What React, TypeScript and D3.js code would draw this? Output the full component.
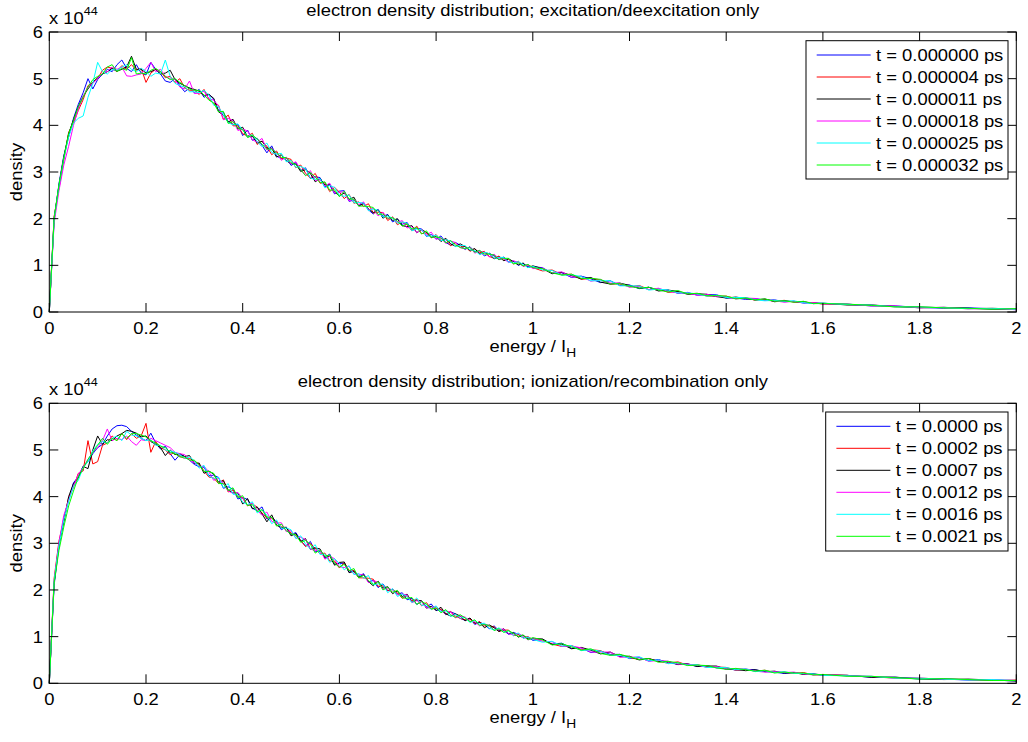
import React from 'react';
import * as d3 from 'd3';

const energy = [
  0, 0.01, 0.02, 0.03, 0.04, 0.05, 0.06, 0.07, 0.08, 0.09,
  0.10, 0.11, 0.12, 0.13, 0.14, 0.15, 0.16, 0.17, 0.18, 0.19,
  0.20, 0.21, 0.22, 0.23, 0.24, 0.25, 0.26, 0.27, 0.28, 0.29,
  0.30, 0.31, 0.32, 0.33, 0.34, 0.35, 0.36, 0.37, 0.38, 0.39,
  0.40, 0.41, 0.42, 0.43, 0.44, 0.45, 0.46, 0.47, 0.48, 0.49,
  0.50,
  0.51, 0.52, 0.53, 0.54, 0.55, 0.56, 0.57, 0.58, 0.59, 0.60,
  0.61, 0.62, 0.63, 0.64, 0.65, 0.66, 0.67, 0.68, 0.69, 0.70,
  0.71, 0.72, 0.73, 0.74, 0.75, 0.76, 0.77, 0.78, 0.79, 0.80,
  0.81, 0.82, 0.83, 0.84, 0.85, 0.86, 0.87, 0.88, 0.89, 0.90,
  0.91, 0.92, 0.93, 0.94, 0.95, 0.96, 0.97, 0.98, 0.99, 1.00,
  1.02, 1.04, 1.06, 1.08, 1.10, 1.12, 1.14, 1.16, 1.18, 1.20,
  1.22, 1.24, 1.26, 1.28, 1.30, 1.32, 1.34, 1.36, 1.38, 1.40,
  1.42, 1.44, 1.46, 1.48, 1.50, 1.52, 1.54, 1.56, 1.58, 1.60,
  1.65, 1.70, 1.75, 1.80, 1.85, 1.90, 1.95, 2.00,
];

// ---- top panel: excitation/deexcitation (density / 1e44) ----
const exc_t0 = [
  0, 1.95, 2.75, 3.35, 3.75, 4.15, 4.45, 4.7, 5.0, 4.78,
  4.98, 5.1, 5.2, 5.15, 5.3, 5.4, 5.22, 5.15, 5.3, 5.12,
  5.08, 5.35, 5.2, 5.1, 4.95, 4.92, 5.0, 4.85, 4.72, 4.8,
  4.70, 4.77, 4.60, 4.67, 4.56, 4.32, 4.28, 4.08, 4.02, 4.02,
  3.78, 3.90, 3.68, 3.72, 3.57, 3.41, 3.56, 3.34, 3.29, 3.31,
  3.14,
  3.20, 3.03, 3.09, 2.86, 2.90, 2.88, 2.68, 2.72, 2.53, 2.59,
  2.60, 2.37, 2.40, 2.28, 2.34, 2.19, 2.10, 2.20, 2.05, 2.09,
  1.93, 1.99, 1.88, 1.92, 1.75, 1.79, 1.78, 1.62, 1.66, 1.56,
  1.63, 1.49, 1.43, 1.49, 1.43, 1.34, 1.40, 1.29, 1.31, 1.20,
  1.26, 1.20, 1.12, 1.18, 1.07, 1.09, 1.00, 1.04, 0.97, 0.97,
  0.95, 0.83, 0.84, 0.74, 0.77, 0.71, 0.63, 0.67, 0.57, 0.58,
  0.50, 0.53, 0.47, 0.47, 0.40, 0.42, 0.36, 0.37, 0.37, 0.30,
  0.30, 0.27, 0.29, 0.25, 0.26, 0.22, 0.23, 0.19, 0.20, 0.18,
  0.17, 0.13, 0.13, 0.10, 0.08, 0.09, 0.07, 0.05,
];
const exc_t1 = [
  0, 2.05, 2.65, 3.25, 3.85, 4.05, 4.32, 4.55, 4.85, 4.92,
  5.0, 5.18, 5.25, 5.22, 5.15, 5.28, 5.2, 5.3, 5.18, 5.22,
  4.92, 5.12, 5.2, 5.15, 5.02, 5.05, 4.92, 5.0, 4.8, 4.75,
  4.76, 4.66, 4.77, 4.56, 4.47, 4.43, 4.13, 4.22, 3.99, 3.99,
  3.82, 3.77, 3.83, 3.59, 3.66, 3.55, 3.37, 3.45, 3.28, 3.30,
  3.27,
  3.09, 3.15, 2.97, 2.87, 2.97, 2.76, 2.77, 2.58, 2.67, 2.57,
  2.43, 2.52, 2.33, 2.36, 2.26, 2.32, 2.12, 2.14, 2.13, 1.96,
  2.04, 1.87, 1.93, 1.87, 1.74, 1.84, 1.68, 1.69, 1.59, 1.66,
  1.53, 1.56, 1.42, 1.48, 1.39, 1.41, 1.30, 1.35, 1.27, 1.30,
  1.19, 1.15, 1.20, 1.11, 1.13, 1.03, 1.09, 0.98, 1.01, 0.95,
  0.88, 0.90, 0.80, 0.81, 0.70, 0.72, 0.69, 0.60, 0.60, 0.54,
  0.57, 0.48, 0.50, 0.42, 0.44, 0.39, 0.40, 0.34, 0.34, 0.34,
  0.29, 0.31, 0.25, 0.27, 0.23, 0.25, 0.21, 0.21, 0.20, 0.17,
  0.16, 0.15, 0.11, 0.11, 0.09, 0.07, 0.08, 0.06,
];
const exc_t2 = [
  0, 2.02, 2.72, 3.32, 3.82, 4.12, 4.4, 4.62, 4.78, 4.92,
  5.02, 5.1, 5.15, 5.22, 5.16, 5.2, 5.25, 5.48, 5.2, 5.2,
  5.12, 5.15, 5.2, 5.1, 5.12, 5.18, 4.98, 4.9, 4.85, 4.8,
  4.77, 4.73, 4.64, 4.66, 4.58, 4.29, 4.22, 4.07, 4.13, 3.92,
  3.96, 3.75, 3.77, 3.62, 3.66, 3.51, 3.51, 3.32, 3.37, 3.24,
  3.18,
  3.17, 3.01, 3.05, 2.97, 2.79, 2.86, 2.72, 2.74, 2.57, 2.49,
  2.55, 2.41, 2.46, 2.27, 2.32, 2.21, 2.13, 2.19, 2.01, 2.08,
  1.96, 2.00, 1.85, 1.83, 1.85, 1.70, 1.76, 1.71, 1.60, 1.62,
  1.51, 1.58, 1.46, 1.41, 1.46, 1.40, 1.32, 1.36, 1.24, 1.27,
  1.25, 1.14, 1.18, 1.10, 1.14, 1.08, 1.01, 1.05, 0.95, 0.99,
  0.93, 0.82, 0.85, 0.78, 0.71, 0.74, 0.64, 0.60, 0.62, 0.57,
  0.51, 0.53, 0.45, 0.47, 0.44, 0.38, 0.39, 0.38, 0.33, 0.30,
  0.32, 0.29, 0.26, 0.28, 0.22, 0.24, 0.22, 0.22, 0.18, 0.19,
  0.15, 0.15, 0.12, 0.09, 0.10, 0.08, 0.06, 0.06,
];
const exc_t3 = [
  0, 1.9, 2.6, 3.15, 3.55, 4.0, 4.35, 4.62, 4.82, 4.9,
  5.0, 5.12, 5.15, 5.25, 5.2, 5.25, 5.06, 5.05, 5.08, 5.1,
  5.22, 5.35, 5.15, 5.2, 5.05, 5.0, 4.98, 4.82, 4.78, 4.95,
  4.68, 4.69, 4.73, 4.57, 4.54, 4.42, 4.12, 4.15, 4.10, 3.89,
  3.92, 3.88, 3.69, 3.64, 3.72, 3.47, 3.50, 3.42, 3.25, 3.32,
  3.17,
  3.22, 3.05, 2.93, 3.03, 2.82, 2.83, 2.70, 2.76, 2.55, 2.57,
  2.57, 2.38, 2.42, 2.30, 2.36, 2.18, 2.22, 2.06, 2.14, 2.00,
  2.03, 1.92, 1.96, 1.80, 1.83, 1.70, 1.77, 1.65, 1.71, 1.56,
  1.58, 1.47, 1.52, 1.49, 1.38, 1.35, 1.39, 1.26, 1.31, 1.27,
  1.18, 1.24, 1.14, 1.14, 1.06, 1.10, 1.06, 0.98, 1.01, 0.93,
  0.94, 0.84, 0.86, 0.75, 0.76, 0.66, 0.69, 0.62, 0.62, 0.53,
  0.55, 0.48, 0.51, 0.44, 0.41, 0.41, 0.36, 0.38, 0.33, 0.33,
  0.28, 0.30, 0.29, 0.25, 0.24, 0.21, 0.23, 0.20, 0.20, 0.17,
  0.17, 0.13, 0.13, 0.09, 0.10, 0.07, 0.07, 0.05,
];
const exc_t4 = [
  0, 2.0, 2.7, 3.28, 3.75, 4.05, 4.15, 4.2, 4.6, 4.9,
  5.35, 5.15, 5.1, 5.2, 5.18, 5.25, 5.3, 5.2, 5.15, 5.22,
  5.16, 5.05, 5.12, 5.1, 5.4, 5.05, 4.9, 4.85, 4.82, 4.72,
  4.72, 4.70, 4.75, 4.65, 4.43, 4.40, 4.22, 4.06, 4.01, 4.03,
  3.90, 3.76, 3.80, 3.65, 3.54, 3.62, 3.42, 3.38, 3.40, 3.22,
  3.25,
  3.10, 3.12, 3.07, 2.87, 2.84, 2.86, 2.66, 2.71, 2.67, 2.50,
  2.48, 2.51, 2.34, 2.35, 2.33, 2.17, 2.21, 2.18, 2.03, 2.06,
  2.01, 1.90, 1.93, 1.90, 1.74, 1.78, 1.76, 1.63, 1.62, 1.65,
  1.53, 1.55, 1.52, 1.40, 1.43, 1.42, 1.33, 1.32, 1.23, 1.28,
  1.25, 1.15, 1.17, 1.17, 1.07, 1.05, 1.08, 1.02, 0.95, 0.98,
  0.90, 0.89, 0.79, 0.80, 0.76, 0.67, 0.67, 0.67, 0.56, 0.56,
  0.56, 0.47, 0.49, 0.47, 0.41, 0.41, 0.39, 0.34, 0.36, 0.31,
  0.31, 0.31, 0.26, 0.24, 0.25, 0.23, 0.24, 0.20, 0.18, 0.19,
  0.16, 0.15, 0.11, 0.11, 0.09, 0.07, 0.08, 0.06,
];
const exc_t5 = [
  0, 2.0, 2.72, 3.3, 3.82, 4.1, 4.4, 4.6, 4.82, 4.98,
  5.05, 5.1, 5.25, 5.3, 5.15, 5.22, 5.18, 5.45, 5.1, 5.12,
  5.1, 5.18, 5.22, 5.15, 5.05, 4.98, 5.0, 4.92, 4.85, 4.78,
  4.75, 4.75, 4.65, 4.54, 4.48, 4.29, 4.30, 4.04, 4.08, 3.94,
  3.91, 3.74, 3.79, 3.71, 3.59, 3.49, 3.49, 3.41, 3.31, 3.31,
  3.20,
  3.16, 3.05, 2.92, 2.99, 2.89, 2.77, 2.79, 2.61, 2.62, 2.47,
  2.59, 2.42, 2.42, 2.27, 2.27, 2.26, 2.24, 2.09, 2.10, 2.01,
  2.02, 1.95, 1.84, 1.89, 1.78, 1.81, 1.67, 1.74, 1.60, 1.61,
  1.59, 1.48, 1.53, 1.44, 1.38, 1.36, 1.38, 1.28, 1.32, 1.24,
  1.24, 1.22, 1.12, 1.15, 1.15, 1.03, 1.05, 0.99, 1.02, 0.95,
  0.93, 0.84, 0.79, 0.81, 0.72, 0.72, 0.70, 0.60, 0.61, 0.55,
  0.51, 0.53, 0.47, 0.43, 0.46, 0.39, 0.40, 0.35, 0.35, 0.34,
  0.28, 0.30, 0.26, 0.28, 0.23, 0.24, 0.21, 0.23, 0.18, 0.18,
  0.17, 0.14, 0.11, 0.11, 0.09, 0.08, 0.06, 0.07,
];

// ---- bottom panel: ionization/recombination (density / 1e44) ----
const ion_t0 = [
  0, 2.1, 2.95, 3.55, 3.92, 4.3, 4.42, 4.65, 4.75, 4.92,
  5.05, 5.12, 5.3, 5.45, 5.52, 5.53, 5.5, 5.4, 5.32, 5.25,
  5.2, 5.36, 5.15, 5.02, 5.08, 4.92, 4.78, 4.9, 4.86, 4.78,
  4.69, 4.64, 4.63, 4.45, 4.46, 4.41, 4.18, 4.21, 4.16, 3.95,
  3.98, 3.94, 3.75, 3.70, 3.78, 3.52, 3.55, 3.47, 3.29, 3.35,
  3.19,
  3.23, 3.06, 2.94, 3.04, 2.82, 2.83, 2.70, 2.77, 2.55, 2.57,
  2.57, 2.38, 2.42, 2.29, 2.35, 2.17, 2.21, 2.05, 2.13, 1.98,
  2.02, 1.91, 1.94, 1.79, 1.82, 1.69, 1.76, 1.64, 1.70, 1.56,
  1.58, 1.47, 1.53, 1.49, 1.39, 1.35, 1.39, 1.26, 1.31, 1.26,
  1.17, 1.23, 1.13, 1.13, 1.05, 1.09, 1.05, 0.97, 0.99, 0.92,
  0.94, 0.84, 0.86, 0.75, 0.76, 0.66, 0.69, 0.62, 0.62, 0.53,
  0.55, 0.48, 0.51, 0.44, 0.41, 0.41, 0.36, 0.38, 0.33, 0.33,
  0.28, 0.30, 0.29, 0.25, 0.24, 0.21, 0.23, 0.20, 0.20, 0.17,
  0.17, 0.13, 0.13, 0.09, 0.10, 0.07, 0.07, 0.05,
];
const ion_t1 = [
  0, 2.25, 3.05, 3.5, 3.98, 4.2, 4.5, 4.55, 5.2, 4.7,
  4.75, 5.1, 5.15, 5.3, 5.2, 5.35, 5.22, 5.35, 5.25, 5.3,
  5.57, 4.95, 5.18, 5.05, 5.0, 4.9, 4.95, 4.86, 4.82, 4.82,
  4.76, 4.70, 4.55, 4.42, 4.40, 4.28, 4.36, 4.10, 4.14, 4.00,
  3.97, 3.80, 3.85, 3.77, 3.65, 3.54, 3.54, 3.46, 3.35, 3.34,
  3.22,
  3.17, 3.06, 2.93, 3.00, 2.89, 2.77, 2.79, 2.62, 2.62, 2.47,
  2.59, 2.42, 2.42, 2.26, 2.26, 2.25, 2.23, 2.08, 2.09, 1.99,
  2.01, 1.94, 1.82, 1.88, 1.77, 1.80, 1.66, 1.73, 1.59, 1.61,
  1.59, 1.48, 1.54, 1.44, 1.39, 1.36, 1.38, 1.28, 1.32, 1.23,
  1.23, 1.21, 1.11, 1.14, 1.14, 1.02, 1.04, 0.98, 1.00, 0.94,
  0.93, 0.84, 0.79, 0.81, 0.72, 0.72, 0.70, 0.60, 0.61, 0.55,
  0.51, 0.53, 0.47, 0.43, 0.46, 0.39, 0.40, 0.35, 0.35, 0.34,
  0.28, 0.30, 0.26, 0.28, 0.23, 0.24, 0.21, 0.23, 0.18, 0.18,
  0.17, 0.14, 0.11, 0.11, 0.09, 0.08, 0.06, 0.07,
];
const ion_t2 = [
  0, 2.15, 2.98, 3.45, 4.0, 4.28, 4.4, 4.65, 4.6, 5.0,
  5.3, 5.12, 5.22, 5.2, 5.3, 5.35, 5.42, 5.4, 5.36, 5.28,
  5.3, 5.18, 5.12, 5.05, 4.88, 5.0, 4.9, 4.92, 4.86, 4.88,
  4.71, 4.72, 4.50, 4.55, 4.48, 4.31, 4.34, 4.14, 4.08, 4.08,
  3.84, 3.96, 3.74, 3.78, 3.63, 3.46, 3.61, 3.39, 3.33, 3.34,
  3.16,
  3.21, 3.04, 3.10, 2.87, 2.90, 2.88, 2.68, 2.73, 2.53, 2.59,
  2.60, 2.37, 2.40, 2.27, 2.33, 2.18, 2.09, 2.19, 2.04, 2.07,
  1.92, 1.98, 1.86, 1.91, 1.74, 1.78, 1.77, 1.61, 1.65, 1.56,
  1.63, 1.49, 1.44, 1.49, 1.44, 1.34, 1.40, 1.29, 1.31, 1.19,
  1.25, 1.19, 1.11, 1.17, 1.06, 1.08, 0.99, 1.03, 0.95, 0.96,
  0.95, 0.83, 0.84, 0.74, 0.77, 0.71, 0.63, 0.67, 0.57, 0.58,
  0.50, 0.53, 0.47, 0.47, 0.40, 0.42, 0.36, 0.37, 0.37, 0.30,
  0.30, 0.27, 0.29, 0.25, 0.26, 0.22, 0.23, 0.19, 0.20, 0.18,
  0.17, 0.13, 0.13, 0.10, 0.08, 0.09, 0.07, 0.05,
];
const ion_t3 = [
  0, 2.2, 3.02, 3.6, 3.92, 4.22, 4.48, 4.62, 4.8, 4.95,
  5.05, 5.2, 5.45, 5.2, 5.25, 5.22, 5.3, 5.18, 5.1, 5.22,
  5.2, 5.25, 5.2, 5.15, 5.1, 5.05, 4.95, 4.92, 4.9, 4.78,
  4.73, 4.65, 4.65, 4.53, 4.35, 4.39, 4.28, 4.12, 4.07, 4.09,
  3.96, 3.82, 3.86, 3.71, 3.60, 3.67, 3.47, 3.43, 3.44, 3.25,
  3.27,
  3.11, 3.13, 3.08, 2.88, 2.84, 2.86, 2.66, 2.72, 2.67, 2.50,
  2.48, 2.51, 2.34, 2.34, 2.32, 2.16, 2.20, 2.17, 2.02, 2.04,
  2.00, 1.89, 1.91, 1.89, 1.73, 1.77, 1.75, 1.62, 1.61, 1.65,
  1.53, 1.55, 1.53, 1.40, 1.44, 1.42, 1.33, 1.32, 1.23, 1.27,
  1.24, 1.14, 1.16, 1.16, 1.06, 1.04, 1.07, 1.01, 0.93, 0.97,
  0.90, 0.89, 0.79, 0.80, 0.76, 0.67, 0.67, 0.67, 0.56, 0.56,
  0.56, 0.47, 0.49, 0.47, 0.41, 0.41, 0.39, 0.34, 0.36, 0.31,
  0.31, 0.31, 0.26, 0.24, 0.25, 0.23, 0.24, 0.20, 0.18, 0.19,
  0.16, 0.15, 0.11, 0.11, 0.09, 0.07, 0.08, 0.06,
];
const ion_t4 = [
  0, 2.2, 2.95, 3.5, 3.9, 4.22, 4.35, 4.62, 4.75, 4.98,
  5.12, 5.18, 5.15, 5.25, 5.3, 5.2, 5.4, 5.32, 5.3, 5.25,
  5.2, 5.22, 5.1, 5.1, 5.0, 4.98, 4.95, 4.9, 4.82, 4.85,
  4.77, 4.61, 4.67, 4.44, 4.39, 4.42, 4.19, 4.28, 4.05, 4.05,
  3.88, 3.83, 3.89, 3.65, 3.72, 3.60, 3.42, 3.50, 3.32, 3.33,
  3.29,
  3.10, 3.16, 2.98, 2.88, 2.97, 2.76, 2.77, 2.59, 2.67, 2.57,
  2.43, 2.52, 2.33, 2.35, 2.25, 2.31, 2.11, 2.13, 2.12, 1.94,
  2.03, 1.86, 1.91, 1.86, 1.73, 1.83, 1.67, 1.68, 1.58, 1.66,
  1.53, 1.56, 1.43, 1.48, 1.40, 1.41, 1.30, 1.35, 1.27, 1.29,
  1.18, 1.14, 1.19, 1.10, 1.12, 1.02, 1.08, 0.97, 0.99, 0.94,
  0.88, 0.90, 0.80, 0.81, 0.70, 0.72, 0.69, 0.60, 0.60, 0.54,
  0.57, 0.48, 0.50, 0.42, 0.44, 0.39, 0.40, 0.34, 0.34, 0.34,
  0.29, 0.31, 0.25, 0.27, 0.23, 0.25, 0.21, 0.21, 0.20, 0.17,
  0.16, 0.15, 0.11, 0.11, 0.09, 0.07, 0.08, 0.06,
];
const ion_t5 = [
  0, 2.15, 2.85, 3.35, 3.8, 4.12, 4.42, 4.6, 4.8, 4.95,
  5.1, 5.25, 5.12, 5.25, 5.2, 5.35, 5.25, 5.35, 5.35, 5.32,
  5.28, 5.2, 5.15, 5.08, 5.05, 4.95, 4.92, 4.85, 4.85, 4.78,
  4.78, 4.68, 4.54, 4.54, 4.50, 4.28, 4.28, 4.13, 4.19, 3.98,
  4.02, 3.81, 3.83, 3.68, 3.72, 3.56, 3.56, 3.37, 3.41, 3.27,
  3.20,
  3.18, 3.02, 3.06, 2.98, 2.79, 2.86, 2.72, 2.75, 2.57, 2.49,
  2.55, 2.41, 2.46, 2.26, 2.31, 2.20, 2.12, 2.18, 2.00, 2.06,
  1.95, 1.99, 1.83, 1.82, 1.84, 1.69, 1.75, 1.70, 1.59, 1.62,
  1.51, 1.58, 1.47, 1.41, 1.47, 1.40, 1.32, 1.36, 1.24, 1.26,
  1.24, 1.13, 1.17, 1.09, 1.13, 1.07, 1.00, 1.04, 0.93, 0.98,
  0.93, 0.82, 0.85, 0.78, 0.71, 0.74, 0.64, 0.60, 0.62, 0.57,
  0.51, 0.53, 0.45, 0.47, 0.44, 0.38, 0.39, 0.38, 0.33, 0.30,
  0.32, 0.29, 0.26, 0.28, 0.22, 0.24, 0.22, 0.22, 0.18, 0.19,
  0.15, 0.15, 0.12, 0.09, 0.10, 0.08, 0.06, 0.06,
];

const excLabels = [
  't = 0.000000 ps', 't = 0.000004 ps', 't = 0.000011 ps',
  't = 0.000018 ps', 't = 0.000025 ps', 't = 0.000032 ps',
];
const ionLabels = [
  't = 0.0000 ps', 't = 0.0002 ps', 't = 0.0007 ps',
  't = 0.0012 ps', 't = 0.0016 ps', 't = 0.0021 ps',
];
const seriesColors = ['#0000ff', '#ff0000', '#000000', '#ff00ff', '#00ffff', '#00ff00'];
const xTicks = [0, 0.2, 0.4, 0.6, 0.8, 1, 1.2, 1.4, 1.6, 1.8, 2];
const yTicks = [0, 1, 2, 3, 4, 5, 6];
const titles = [
  'electron density distribution; excitation/deexcitation only',
  'electron density distribution; ionization/recombination only',
];

const FONT = "'Liberation Sans', Arial, Helvetica, sans-serif";
const SX = 1.15; // horizontal stretch of the reference's font

type TxtProps = {
  x: number;
  y: number;
  size: number;
  anchor?: 'start' | 'middle' | 'end';
  rotate?: number;
  children: React.ReactNode;
};
function Txt({ x, y, size, anchor = 'start', rotate = 0, children }: TxtProps) {
  return (
    <text
      transform={`translate(${x},${y}) rotate(${rotate}) scale(${SX},1)`}
      textAnchor={anchor}
      fontSize={size}
      fontFamily={FONT}
      fill="#000"
    >
      {children}
    </text>
  );
}

type PanelProps = {
  top: number;
  bottom: number;
  title: string;
  series: number[][];
  labels: string[];
  legendBox: { x0: number; x1: number; y0: number; y1: number };
};

const LEFT = 49.3;
const RIGHT = 1016.3;
const TICK = 9;

function Panel({ top, bottom, title, series, labels, legendBox }: PanelProps) {
  const x = d3.scaleLinear().domain([0, 2]).range([LEFT, RIGHT]);
  const y = d3.scaleLinear().domain([0, 6]).range([bottom, top]);
  const line = d3
    .line<number>()
    .x((_, i) => x(energy[i]))
    .y((d) => y(d));
  const midX = (LEFT + RIGHT) / 2;
  const fmt = (v: number) => String(+v.toFixed(1));
  return (
    <g>
      {series.map((s, k) => (
        <path key={k} d={line(s) || ''} fill="none" stroke={seriesColors[k]} strokeWidth={1} />
      ))}
      {xTicks.map((t) => (
        <g key={'xt' + t}>
          <line x1={x(t)} x2={x(t)} y1={bottom} y2={bottom - TICK} stroke="#000" />
          <line x1={x(t)} x2={x(t)} y1={top} y2={top + TICK} stroke="#000" />
          <Txt x={x(t)} y={bottom + 22} size={16} anchor="middle">
            {fmt(t)}
          </Txt>
        </g>
      ))}
      {yTicks.map((t) => (
        <g key={'yt' + t}>
          <line x1={LEFT} x2={LEFT + TICK} y1={y(t)} y2={y(t)} stroke="#000" />
          <line x1={RIGHT} x2={RIGHT - TICK} y1={y(t)} y2={y(t)} stroke="#000" />
          <Txt x={43} y={y(t) + 6} size={16} anchor="end">
            {t}
          </Txt>
        </g>
      ))}
      <rect x={LEFT} y={top} width={RIGHT - LEFT} height={bottom - top} fill="none" stroke="#000" strokeWidth={1} />
      <Txt x={49} y={top - 8} size={16}>
        x 10
        <tspan fontSize={11} dy={-9}>
          44
        </tspan>
      </Txt>
      <Txt x={midX} y={top - 16} size={16} anchor="middle">
        {title}
      </Txt>
      <Txt x={midX} y={bottom + 40} size={16} anchor="middle">
        energy / I
        <tspan fontSize={12} dy={5}>
          H
        </tspan>
      </Txt>
      <Txt x={22} y={(top + bottom) / 2} size={16} anchor="middle" rotate={-90}>
        density
      </Txt>
      <rect
        x={legendBox.x0}
        y={legendBox.y0}
        width={legendBox.x1 - legendBox.x0}
        height={legendBox.y1 - legendBox.y0}
        fill="#fff"
        stroke="#000"
        strokeWidth={1}
      />
      {labels.map((lab, i) => {
        const cy = legendBox.y0 + 14.3 + 22 * i;
        return (
          <g key={lab}>
            <line
              x1={legendBox.x0 + 10.7}
              x2={legendBox.x0 + 64.7}
              y1={cy}
              y2={cy}
              stroke={seriesColors[i]}
              strokeWidth={1}
            />
            <Txt x={legendBox.x0 + 70} y={cy + 6} size={16}>
              {lab}
            </Txt>
          </g>
        );
      })}
    </g>
  );
}

export default function App() {
  return (
    <svg
      width={1028}
      height={742}
      style={{ position: 'absolute', left: 0, top: 0, display: 'block', background: '#fff' }}
    >
      <rect x={0} y={0} width={1028} height={742} fill="#fff" />
      <Panel
        top={32}
        bottom={312}
        title={titles[0]}
        series={[exc_t0, exc_t1, exc_t2, exc_t3, exc_t4, exc_t5]}
        labels={excLabels}
        legendBox={{ x0: 806, x1: 1008, y0: 40.7, y1: 179 }}
      />
      <Panel
        top={403.3}
        bottom={683.3}
        title={titles[1]}
        series={[ion_t0, ion_t1, ion_t2, ion_t3, ion_t4, ion_t5]}
        labels={ionLabels}
        legendBox={{ x0: 825.7, x1: 1008, y0: 412, y1: 551 }}
      />
    </svg>
  );
}
